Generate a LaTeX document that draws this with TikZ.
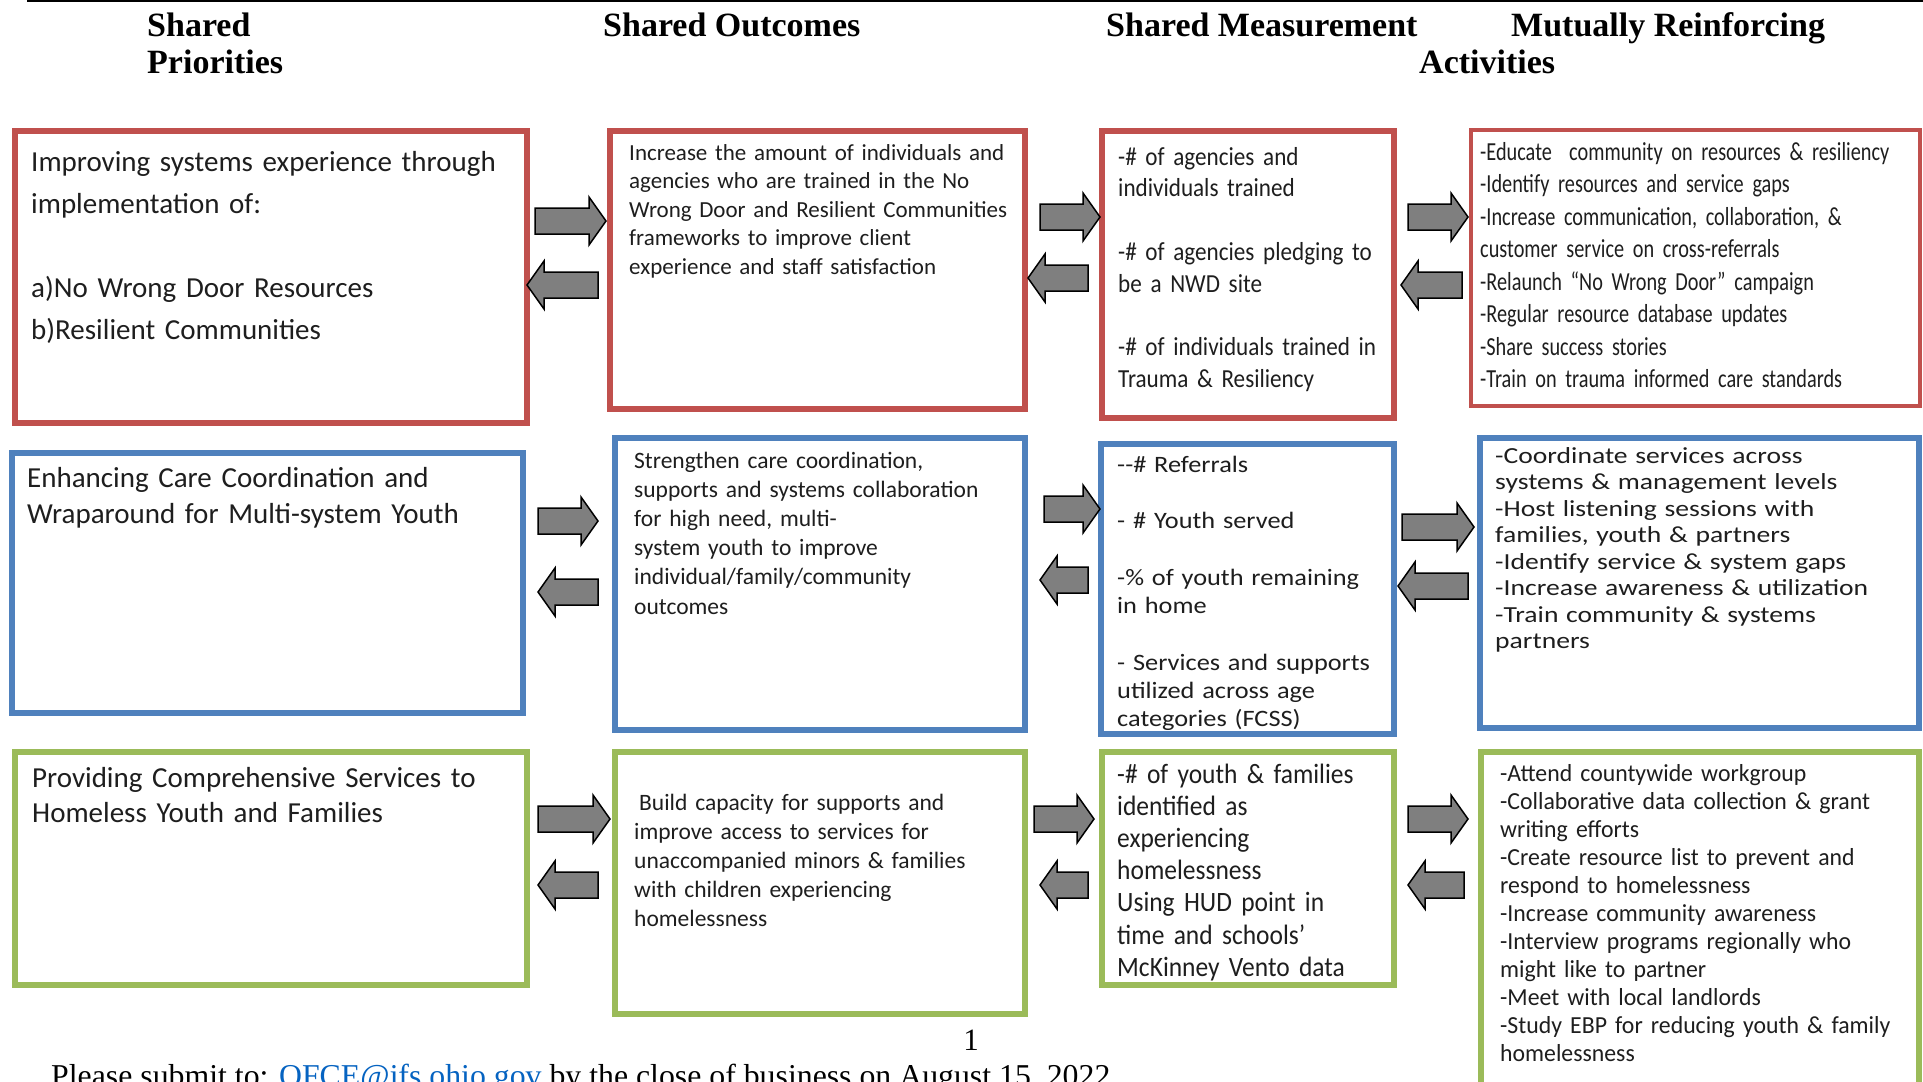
\documentclass[tikz,border=0pt]{standalone}
\usepackage{fontspec}
\setmainfont{Carlito}
\newfontfamily\seriff{Liberation Serif}
\newfontfamily\fC{Carlito}[FakeStretch=0.89]
\newfontfamily\fD{Carlito}[FakeStretch=0.78]
\newfontfamily\fE{Carlito}[FakeStretch=0.91]
\newfontfamily\fF{Carlito}[FakeStretch=1.12]
\newfontfamily\fG{Carlito}[FakeStretch=1.2]
\newfontfamily\fH{Carlito}[FakeStretch=0.97]
\usetikzlibrary{fit}
\definecolor{cRed}{HTML}{C0504D}
\definecolor{cBlue}{HTML}{4F81BD}
\definecolor{cGreen}{HTML}{9BBB59}
\definecolor{arrowgray}{HTML}{7F7F7F}
\definecolor{txtc}{HTML}{1E1E1E}
\definecolor{linkc}{HTML}{0563C1}
\tikzset{
  box/.style={draw=#1, line width=6pt, inner sep=0pt, fill=white},
  txt/.style={anchor=base west, inner sep=0pt, align=left, text width=560pt, text=txtc},
  hdr/.style={anchor=base west, inner sep=0pt, font=\seriff\bfseries\fontsize{34}{37}\selectfont},
  blockarrow/.style={draw=black, line width=1.5pt, fill=arrowgray, line join=miter},
}
% right-pointing block arrow: name, x1, x2, yc
\newcommand\rarr[4]{%
  \coordinate (#1s) at (#2,#4);\coordinate (#1) at (#3,#4);
  \draw[blockarrow] (#2,#4-13) -- (#3-17,#4-13) -- (#3-17,#4-24) -- (#1) -- (#3-17,#4+24) -- (#3-17,#4+13) -- (#2,#4+13) -- cycle;}
% left-pointing block arrow: name, x1 (tip), x2, yc
\newcommand\larr[4]{%
  \coordinate (#1) at (#2,#4);\coordinate (#1s) at (#3,#4);
  \draw[blockarrow] (#3,#4-13) -- (#2+17,#4-13) -- (#2+17,#4-24) -- (#1) -- (#2+17,#4+24) -- (#2+17,#4+13) -- (#3,#4+13) -- cycle;}
\begin{document}
\begin{tikzpicture}[x=1pt,y=-1pt]
\useasboundingbox (0,0) rectangle (1923,1082);
\clip (0,0) rectangle (1923,1082);
\fill[white] (0,0) rectangle (1923,1082);

% top rule
\coordinate (tl) at (27,1);
\coordinate (tr) at (1923,1);
\draw[line width=1.5pt] (tl) -- (tr);

% headers
\node[hdr] (h1) at (147,36) {Shared};
\node[hdr] (h1b) at (147,73) {Priorities};
\node[hdr] (h2) at (603,36) {Shared Outcomes};
\node[hdr] (h3) at (1106,36) {Shared Measurement};
\node[hdr] (h4) at (1511,36) {Mutually Reinforcing};
\node[hdr] (h4b) at (1419,73) {Activities};

% row 1 boxes (red)
\node[box=cRed, fit={(15,131) (527,423)}] (a1) {};
\node[box=cRed, fit={(610,131) (1025,409)}] (b1) {};
\node[box=cRed, fit={(1102,131) (1394,418)}] (c1) {};
\node[box=cRed, line width=4pt, fit={(1471,130) (1920,406)}] (d1) {};
% row 2 boxes (blue)
\node[box=cBlue, fit={(12,453) (523,713)}] (a2) {};
\node[box=cBlue, fit={(615,438) (1025,730)}] (b2) {};
\node[box=cBlue, fit={(1101,444) (1394,734)}] (c2) {};
\node[box=cBlue, fit={(1480,438) (1919,728)}] (d2) {};
% row 3 boxes (green)
\node[box=cGreen, fit={(15,752) (527,985)}] (a3) {};
\node[box=cGreen, fit={(615,752) (1025,1014)}] (b3) {};
\node[box=cGreen, fit={(1102,752) (1394,985)}] (c3) {};
\node[box=cGreen, fit={(1481,752) (1919,1100)}] (d3) {};

% texts row 1
\node[txt, font=\fontsize{29}{42}\selectfont] (ta1) at (31,171)
 {Improving systems experience through\\implementation of:\\[42pt]a)No Wrong Door Resources\\b)Resilient Communities};
\node[txt, font=\fontsize{23}{28.5}\selectfont] (tb1) at (629,160)
 {Increase the amount of individuals and\\agencies who are trained in the No\\Wrong Door and Resilient Communities\\frameworks to improve client\\experience and staff satisfaction};
\node[txt, font=\fC\fontsize{26}{31.75}\selectfont] (tc1) at (1118,165)
 {-\# of agencies and\\individuals trained\\[31.75pt]-\# of agencies pledging to\\be a NWD site\\[31.75pt]-\# of individuals trained in\\Trauma \& Resiliency};
\node[txt, font=\fD\fontsize{26}{32.5}\selectfont] (td1) at (1480,160)
 {-Educate\ \ community on resources \& resiliency\\-Identify resources and service gaps\\-Increase communication, collaboration, \&\\customer service on cross-referrals\\-Relaunch “No Wrong Door” campaign\\-Regular resource database updates\\-Share success stories\\-Train on trauma informed care standards};

% texts row 2
\node[txt, font=\fontsize{29}{36}\selectfont] (ta2) at (27,487)
 {Enhancing Care Coordination and\\Wraparound for Multi-system Youth};
\node[txt, font=\fontsize{23.5}{29.2}\selectfont] (tb2) at (634,468)
 {Strengthen care coordination,\\supports and systems collaboration\\for high need, multi-\\system youth to improve\\individual/family/community\\outcomes};
\node[txt, font=\fF\fontsize{23.5}{28.3}\selectfont] (tc2) at (1117,472)
 {--\# Referrals\\[28.3pt]- \# Youth served\\[28.3pt]-\% of youth remaining\\in home\\[28.3pt]- Services and supports\\utilized across age\\categories (FCSS)};
\node[txt, font=\fG\fontsize{23}{26.5}\selectfont] (td2) at (1495,463)
 {-Coordinate services across\\systems \& management levels\\-Host listening sessions with\\families, youth \& partners\\-Identify service \& system gaps\\-Increase awareness \& utilization\\-Train community \& systems\\partners};

% texts row 3
\node[txt, font=\fontsize{29}{35}\selectfont] (ta3) at (32,787)
 {Providing Comprehensive Services to\\Homeless Youth and Families};
\node[txt, font=\fontsize{23.5}{29}\selectfont] (tb3) at (634,810)
 {\hspace*{5pt}Build capacity for supports and\\improve access to services for\\unaccompanied minors \& families\\with children experiencing\\homelessness};
\node[txt, font=\fE\fontsize{28}{32.2}\selectfont] (tc3) at (1117,783)
 {-\# of youth \& families\\identified as\\experiencing\\homelessness\\Using HUD point in\\time and schools’\\McKinney Vento data};
\node[txt, font=\fH\fontsize{24.5}{28.07}\selectfont] (td3) at (1500,781)
 {-Attend countywide workgroup\\-Collaborative data collection \& grant\\writing efforts\\-Create resource list to prevent and\\respond to homelessness\\-Increase community awareness\\-Interview programs regionally who\\might like to partner\\-Meet with local landlords\\-Study EBP for reducing youth \& family\\homelessness};

% arrows row 1
\rarr{r1ab}{535}{606}{221}
\larr{l1ab}{527}{598}{285}
\rarr{r1bc}{1040}{1100}{217}
\larr{l1bc}{1028}{1088}{278}
\rarr{r1cd}{1408}{1468}{217}
\larr{l1cd}{1401}{1462}{285}
% arrows row 2
\rarr{r2ab}{538}{598}{521}
\larr{l2ab}{538}{598}{592}
\rarr{r2bc}{1044}{1100}{509}
\larr{l2bc}{1040}{1088}{580}
\rarr{r2cd}{1402}{1474}{527}
\larr{l2cd}{1398}{1468}{586}
% arrows row 3
\rarr{r3ab}{538}{610}{819}
\larr{l3ab}{538}{598}{885}
\rarr{r3bc}{1034}{1094}{819}
\larr{l3bc}{1040}{1088}{885}
\rarr{r3cd}{1408}{1468}{819}
\larr{l3cd}{1408}{1464}{885}

% footer
\node[anchor=base, inner sep=0pt, font=\seriff\fontsize{31}{34}\selectfont] (pg) at (971,1050) {1};
\node[anchor=base west, inner sep=0pt, font=\seriff\fontsize{31.8}{34}\selectfont] (ft) at (51,1086)
 {Please submit to: \textcolor{linkc}{OFCE@jfs.ohio.gov} by the close of business on August 15, 2022};
\end{tikzpicture}
\end{document}
